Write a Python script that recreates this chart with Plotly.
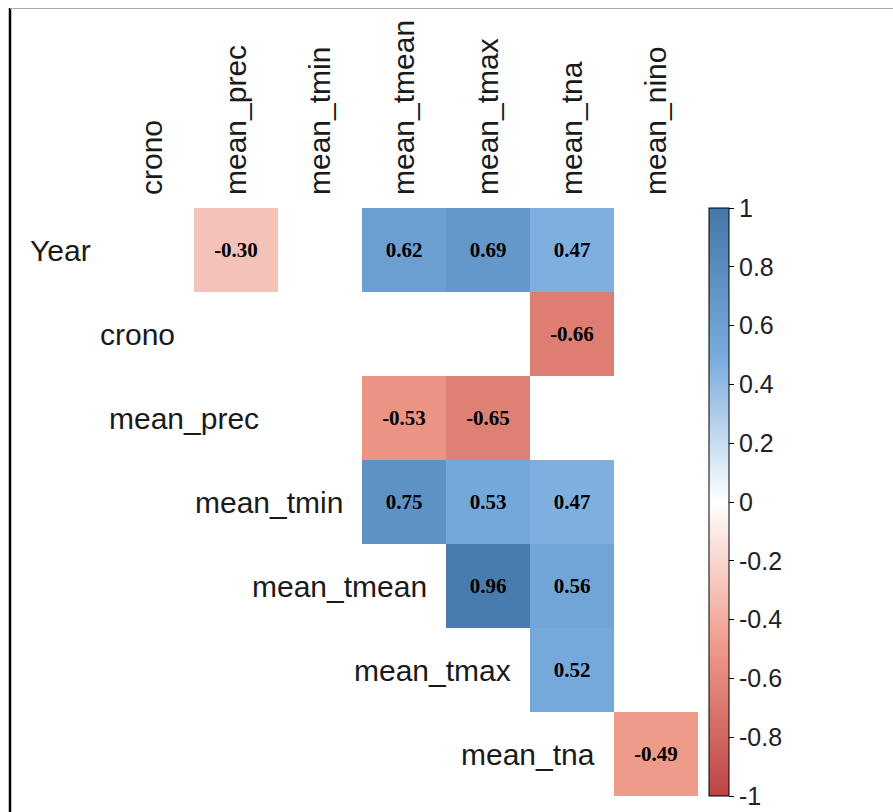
import plotly.graph_objects as go

rows = ["Year", "crono", "mean_prec", "mean_tmin", "mean_tmean", "mean_tmax", "mean_tna"]
cols = ["crono", "mean_prec", "mean_tmin", "mean_tmean", "mean_tmax", "mean_tna", "mean_nino"]

# upper-triangle correlations (None = not significant / not shown)
r_year = [None, -0.30, None, 0.62, 0.69, 0.47, None]
r_crono = [None, None, None, None, None, -0.66, None]
r_prec = [None, None, None, -0.53, -0.65, None, None]
r_tmin = [None, None, None, 0.75, 0.53, 0.47, None]
r_tmean = [None, None, None, None, 0.96, 0.56, None]
r_tmax = [None, None, None, None, None, 0.52, None]
r_tna = [None, None, None, None, None, None, -0.49]

cbar_vals = [1, 0.8, 0.6, 0.4, 0.2, 0, -0.2, -0.4, -0.6, -0.8, -1]
cbar_text = ["1", "0.8", "0.6", "0.4", "0.2", "0", "-0.2", "-0.4", "-0.6", "-0.8", "-1"]

z = [r_year, r_crono, r_prec, r_tmin, r_tmean, r_tmax, r_tna]
text = [["" if v is None else f"{v:.2f}" for v in row] for row in z]

colorscale = [[0, "#BB4444"], [0.25, "#EE9988"], [0.5, "#FFFFFF"],
              [0.75, "#77AADD"], [1, "#4477AA"]]

W, H = 893, 812
L, R, T, B = 110, 195, 208, 16
pw, ph = W - L - R, H - T - B

def px_x(p):
    return (p - L) / pw

def px_y(p):
    return (H - B - p) / ph

fig = go.Figure(go.Heatmap(
    z=z, x=cols, y=rows, text=text, texttemplate="%{text}",
    textfont=dict(family="Liberation Serif", size=21, color="black", weight="bold"),
    colorscale=colorscale, zmin=-1, zmax=1, hoverongaps=False,
    colorbar=dict(
        x=px_x(709), xanchor="left", xpad=0, y=0.5, yanchor="middle",
        len=1, lenmode="fraction", ypad=0, thickness=20, thicknessmode="pixels",
        outlinewidth=1, outlinecolor="black",
        tickvals=cbar_vals, ticktext=cbar_text,
        ticks="outside", ticklen=5, tickcolor="black", tickwidth=1,
        tickfont=dict(family="Liberation Sans", size=25, color="#222222"),
    ),
))

for i, name in enumerate(rows):
    fig.add_annotation(
        x=i - 0.5, y=name, xref="x", yref="y", text=name, showarrow=False,
        xanchor="right", yanchor="middle", xshift=-17,
        font=dict(family="Liberation Sans", size=30, color="#1a1a1a"),
    )

fig.add_shape(type="line", xref="paper", yref="paper",
              x0=px_x(10), x1=px_x(10), y0=px_y(8), y1=px_y(H),
              line=dict(color="black", width=2.5))
fig.add_shape(type="line", xref="paper", yref="paper",
              x0=px_x(10), x1=px_x(W), y0=px_y(8.5), y1=px_y(8.5),
              line=dict(color="#aaaaaa", width=1))

fig.update_xaxes(side="top", tickangle=-90, showgrid=False, zeroline=False,
                 showline=False, ticks="", ticklabelstandoff=12,
                 range=[-0.5, 6.5], autorange=False,
                 tickfont=dict(family="Liberation Sans", size=30, color="#1a1a1a"))
fig.update_yaxes(range=[6.5, -0.5], autorange=False, showgrid=False, zeroline=False,
                 showline=False, showticklabels=False, ticks="")

fig.update_layout(
    width=W, height=H, margin=dict(l=L, r=R, t=T, b=B, autoexpand=False),
    paper_bgcolor="white", plot_bgcolor="white",
)

fig.write_html("out.html", config={"displayModeBar": False},
               post_script="document.body.style.margin='0';")
